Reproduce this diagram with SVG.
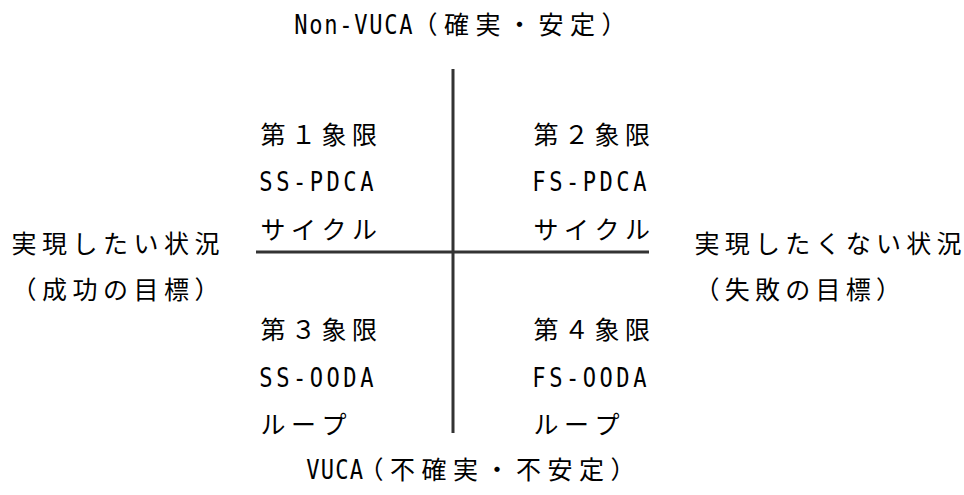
<svg xmlns="http://www.w3.org/2000/svg" width="964" height="495" viewBox="0 0 964 495">
<style>
.t{font-family:"Noto Sans CJK JP","Noto Sans CJK SC",sans-serif;font-size:25px;font-weight:400;fill:#000;text-anchor:middle}
.l{font-family:"DejaVu Sans Mono","Liberation Mono",monospace;font-size:26px;fill:#000;text-anchor:middle}
.ax{stroke:#333;stroke-width:3;fill:none}
</style>
<rect width="964" height="495" fill="#fff"/>
<g id="connectors">
<line class="ax" x1="453" y1="69" x2="453" y2="433"/>
<line class="ax" x1="256" y1="252" x2="649" y2="252"/>
</g>
<g id="top-label">
<text class="l" transform="scale(0.85,1)" y="34" x="354.12 371.76 389.41 407.06 424.71 442.35 460 477.65">Non-VUCA</text>
<text class="t" y="34" x="425 456.5 488 519.5 551 582.5 614">（確実・安定）</text>
</g>
<g id="bottom-label">
<text class="l" transform="scale(0.85,1)" y="479" x="368.24 385.29 402.35 419.41">VUCA</text>
<text class="t" y="479" x="371 402.5 434 465.5 497 528.5 560 591.5 623">（不確実・不安定）</text>
</g>
<g id="left-label">
<text class="t" y="253" x="24 54.5 85 115.5 146 176.5 207">実現したい状況</text>
<text class="t" y="299" x="24 54.5 85 115.5 146 176.5 207">（成功の目標）</text>
</g>
<g id="right-label">
<text class="t" y="253" x="707 737.25 767.5 797.75 828 858.25 888.5 918.75 949">実現したくない状況</text>
<text class="t" y="299" x="707 737.25 767.5 797.75 828 858.25 888.5">（失敗の目標）</text>
</g>
<g id="q1">
<text class="t" y="144" x="273 303.5 334 364.5">第１象限</text>
<text class="l" transform="scale(0.85,1)" y="191" x="312.94 332.71 352.47 372.24 392 411.76 431.53">SS-PDCA</text>
<text class="t" y="239" x="273 303.5 334 364.5">サイクル</text>
</g>
<g id="q2">
<text class="t" y="144" x="546 576.5 607 637.5">第２象限</text>
<text class="l" transform="scale(0.85,1)" y="191" x="634.12 653.88 673.65 693.41 713.18 732.94 752.71">FS-PDCA</text>
<text class="t" y="239" x="546 576.5 607 637.5">サイクル</text>
</g>
<g id="q3">
<text class="t" y="339" x="273 303.5 334 364.5">第３象限</text>
<text class="l" transform="scale(0.85,1)" y="387" x="312.94 332.71 352.47 372.24 392 411.76 431.53">SS-OODA</text>
<text class="t" y="434" x="273 303.5 334">ループ</text>
</g>
<g id="q4">
<text class="t" y="339" x="546 576.5 607 637.5">第４象限</text>
<text class="l" transform="scale(0.85,1)" y="387" x="634.12 653.88 673.65 693.41 713.18 732.94 752.71">FS-OODA</text>
<text class="t" y="434" x="546 576.5 607">ループ</text>
</g>
</svg>
